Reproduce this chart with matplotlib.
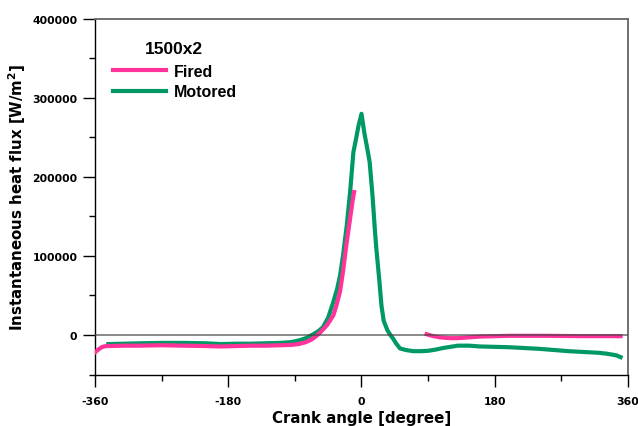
import matplotlib
matplotlib.use("Agg")
import matplotlib.pyplot as plt
import numpy as np

plt.rcParams['font.family'] = ['DejaVu Sans']
plt.rcParams['font.weight'] = 'bold'
plt.rcParams['axes.unicode_minus'] = False

# motored cycle, crank angle [deg] and heat flux [W/m2]
motored_ca = [-342, -320, -300, -270, -240, -210, -190, -170, -150, -130, -110, -95, -85, -75,
              -65, -58, -52, -45, -38, -33, -29, -25, -20, -15, -11, -7, -4, 0, 4, 8, 11, 15,
              18, 20, 24, 27, 30, 35, 39, 43, 47, 52, 60, 70, 80, 90, 100, 110, 120, 130, 145,
              160, 180, 200, 220, 240, 260, 280, 300, 320, 330, 340, 345, 350]
motored_q = [-11500, -11000, -10500, -10000, -10000, -10500, -11500, -11000, -11000, -10500,
             -10000, -9000, -7000, -4000, 1000, 5000, 10000, 22000, 42000, 58000, 75000, 100000,
             138000, 185000, 231000, 250000, 265000, 280000, 255000, 235000, 219000, 175000,
             134000, 110000, 70000, 37000, 18000, 6000, 0, -5000, -11000, -17000, -19000, -20500,
             -20500, -20000, -18500, -16500, -15000, -13500, -13500, -14500, -15000, -15500,
             -16500, -17500, -19000, -20500, -21500, -22500, -23500, -25000, -26000, -28000]

# fired cycle, compression side up to ignition
fired_ca_a = [-360, -355, -350, -345, -320, -300, -270, -240, -210, -190, -170, -150, -130,
              -110, -95, -85, -75, -68, -62, -56, -50, -47, -42, -38, -34, -29, -25, -20, -15,
              -12, -10]
fired_q_a = [-22000, -18000, -15000, -14000, -13500, -13500, -13000, -13500, -14000, -14500,
             -14000, -13500, -13500, -13000, -12500, -11500, -9000, -6000, -2000, 3000, 9000,
             12000, 19000, 25000, 37000, 55000, 80000, 117000, 150000, 170000, 181000]

# fired cycle, late expansion and exhaust
fired_ca_b = [88, 95, 106, 120, 130, 145, 160, 180, 200, 250, 300, 350]
fired_q_b = [1000, -1000, -3000, -4000, -4000, -3000, -2000, -1500, -1000, -1000, -1500, -1500]

pink = '#FF3399'
green = '#009966'

fig = plt.figure(figsize=(6.38, 4.27), dpi=100)
ax = fig.add_axes([0.1489, 0.1206, 0.8354, 0.8326])

ax.plot(motored_ca, motored_q, color=green, lw=3, label='Motored', zorder=2)
ax.plot(fired_ca_a, fired_q_a, color=pink, lw=3, label='Fired', zorder=3)
ax.plot(fired_ca_b, fired_q_b, color=pink, lw=3, zorder=3)
ax.axhline(0, color='#444444', lw=1.1, alpha=0.8, zorder=4)

ax.set_xlim(-360, 360)
ax.set_ylim(-50000, 400000)
ax.set_xticks([-360, -180, 0, 180, 360])
ax.set_xticks([-270, -90, 90, 270], minor=True)
ax.set_yticks(np.arange(0, 400001, 100000))
ax.set_yticks([-50000, 50000, 150000, 250000, 350000], minor=True)
ax.tick_params(axis='both', which='major', direction='out', length=8.6, width=1,
               labelsize=7.8)
ax.tick_params(axis='both', which='minor', direction='out', length=4.3, width=1)
ax.tick_params(axis='x', which='major', pad=7)
ax.tick_params(axis='y', which='major', pad=4)

for s in ['top', 'right']:
    ax.spines[s].set_color('#666666')
    ax.spines[s].set_linewidth(1.3)
for s in ['left', 'bottom']:
    ax.spines[s].set_color('black')
    ax.spines[s].set_linewidth(1)

ax.set_xlabel('Crank angle [degree]', fontsize=10.8, fontweight='bold', labelpad=3)
ax.set_ylabel('Instantaneous heat flux [W/m$^\\mathbf{2}$]', fontsize=10.8,
              fontweight='bold', labelpad=3)

# legend: title as plain text, entries below it
ax.text(0.148, 0.918, '1500x2', transform=ax.transAxes, ha='center', va='center',
        fontsize=12.5, fontweight='bold', family='Liberation Sans')
handles, labels = ax.get_legend_handles_labels()
leg = ax.legend(handles[::-1], labels[::-1], loc='upper left',
                bbox_to_anchor=(0.019, 0.897), frameon=False, borderpad=0,
                prop={'family': 'Liberation Sans', 'weight': 'bold', 'size': 11.5},
                handlelength=3.3, handletextpad=0.5, labelspacing=0.36)

fig.savefig('out.png', dpi=100)
